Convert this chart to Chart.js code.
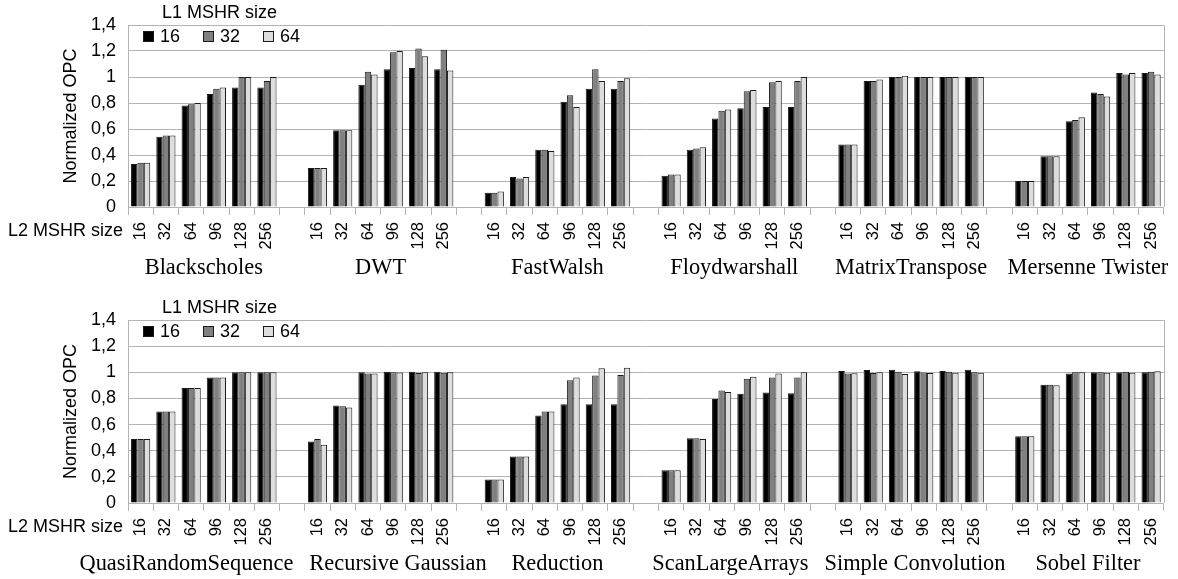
<!DOCTYPE html>
<html>
<head>
<meta charset="utf-8">
<script src="https://cdn.jsdelivr.net/npm/chart.js@4"></script>
<style>
  body { margin: 0; background: #fff; }
  canvas { display: block; }
</style>
</head>
<body>
<canvas id="topChart" width="1178" height="290"></canvas>
<canvas id="bottomChart" width="1178" height="289"></canvas>
<script>
const l1Sizes = ['16', '32', '64'];
const l2Sizes = ['16', '32', '64', '96', '128', '256'];
const yTickLabels = ['0', '0,2', '0,4', '0,6', '0,8', '1', '1,2', '1,4'];

const topBenchmarks = ['Blackscholes', 'DWT', 'FastWalsh', 'Floydwarshall', 'MatrixTranspose', 'Mersenne Twister'];
const bottomBenchmarks = ['QuasiRandomSequence', 'Recursive Gaussian', 'Reduction', 'ScanLargeArrays', 'Simple Convolution', 'Sobel Filter'];

// rows: L1 MSHR 16 / 32 / 64, columns: L2 MSHR sizes
const blackscholes = [
  [0.33, 0.54, 0.78, 0.87, 0.92, 0.92],
  [0.34, 0.55, 0.79, 0.91, 1.00, 0.97],
  [0.34, 0.55, 0.80, 0.92, 1.00, 1.00]
];
const dwt = [
  [0.30, 0.59, 0.94, 1.06, 1.07, 1.06],
  [0.30, 0.59, 1.04, 1.19, 1.22, 1.21],
  [0.30, 0.59, 1.02, 1.20, 1.16, 1.05]
];
const fastWalsh = [
  [0.11, 0.23, 0.44, 0.81, 0.91, 0.91],
  [0.11, 0.22, 0.44, 0.86, 1.06, 0.97],
  [0.12, 0.23, 0.43, 0.77, 0.97, 0.99]
];
const floydwarshall = [
  [0.24, 0.44, 0.68, 0.76, 0.77, 0.77],
  [0.25, 0.45, 0.74, 0.89, 0.96, 0.97],
  [0.25, 0.46, 0.75, 0.90, 0.97, 1.00]
];
const matrixTranspose = [
  [0.48, 0.97, 1.00, 1.00, 1.00, 1.00],
  [0.48, 0.97, 1.00, 1.00, 1.00, 1.00],
  [0.48, 0.98, 1.01, 1.00, 1.00, 1.00]
];
const mersenneTwister = [
  [0.20, 0.39, 0.66, 0.88, 1.03, 1.03],
  [0.20, 0.39, 0.67, 0.87, 1.02, 1.04],
  [0.20, 0.39, 0.69, 0.85, 1.03, 1.02]
];
const quasiRandomSequence = [
  [0.49, 0.70, 0.88, 0.96, 1.00, 1.00],
  [0.49, 0.70, 0.88, 0.96, 1.00, 1.00],
  [0.49, 0.70, 0.88, 0.96, 1.00, 1.00]
];
const recursiveGaussian = [
  [0.47, 0.745, 1.00, 1.005, 1.005, 1.005],
  [0.49, 0.74, 0.99, 1.00, 0.995, 0.997],
  [0.445, 0.73, 0.99, 0.998, 1.00, 1.00]
];
const reduction = [
  [0.18, 0.355, 0.67, 0.755, 0.755, 0.755],
  [0.18, 0.355, 0.70, 0.94, 0.975, 0.98],
  [0.18, 0.355, 0.70, 0.96, 1.03, 1.035]
];
const scanLargeArrays = [
  [0.25, 0.495, 0.795, 0.835, 0.845, 0.84],
  [0.25, 0.495, 0.86, 0.95, 0.96, 0.96],
  [0.25, 0.49, 0.85, 0.965, 0.99, 1.00]
];
const simpleConvolution = [
  [1.01, 1.017, 1.02, 1.008, 1.01, 1.02],
  [0.99, 0.995, 1.005, 0.998, 1.005, 1.00],
  [0.993, 1.00, 0.986, 0.994, 0.996, 0.996]
];
const sobelFilter = [
  [0.51, 0.905, 0.99, 1.00, 1.00, 1.00],
  [0.51, 0.905, 1.00, 1.00, 1.004, 1.004],
  [0.51, 0.90, 1.00, 0.996, 0.996, 1.007]
];

const topValues = [blackscholes, dwt, fastWalsh, floydwarshall, matrixTranspose, mersenneTwister];
const bottomValues = [quasiRandomSequence, recursiveGaussian, reduction, scanLargeArrays, simpleConvolution, sobelFilter];

const barColors = ['#000000', '#808080', '#dddddd'];
const SANS = "'Liberation Sans', Arial, sans-serif";
const SERIF = "'Liberation Serif', 'Times New Roman', serif";
const GRID = '#b3b3b3';

// extra drawing: frame, legend, axis caption and benchmark names
const decor = {
  id: 'decor',
  afterDraw(chart, args, opts) {
    const ctx = chart.ctx;
    const a = chart.chartArea;
    const x = chart.scales.x;
    ctx.save();
    ctx.strokeStyle = GRID;
    ctx.lineWidth = 1;
    ctx.beginPath();
    ctx.moveTo(Math.round(a.right) + 0.5, a.top);
    ctx.lineTo(Math.round(a.right) + 0.5, a.bottom);
    ctx.stroke();

    ctx.fillStyle = '#000';
    ctx.font = '18px ' + SANS;
    ctx.textBaseline = 'middle';
    ctx.textAlign = 'left';
    ctx.fillText('L1 MSHR size', 162, a.top - 11.5);
    l1Sizes.forEach((s, k) => {
      const bx = 143 + k * 60;
      const by = a.top + 6;
      ctx.fillStyle = barColors[k];
      ctx.fillRect(bx, by, 11, 11);
      ctx.strokeStyle = '#1a1a1a';
      ctx.strokeRect(bx + 0.5, by + 0.5, 10, 10);
      ctx.fillStyle = '#000';
      ctx.fillText(s, bx + 17, a.top + 12);
    });

    ctx.textAlign = 'right';
    ctx.fillText('L2 MSHR size', 123, a.bottom + 24);

    // benchmark names centred under their group, pushed apart where they would collide
    ctx.font = '22.4px ' + SERIF;
    const items = opts.names.map((name, i) => {
      const first = i * (l2Sizes.length + 1);
      const cx = (x.getPixelForValue(first) + x.getPixelForValue(first + l2Sizes.length - 1)) / 2;
      return { name, cx, w: ctx.measureText(name).width };
    });
    const minGap = 16;
    for (let i = 0; i < items.length - 1; i++) {
      const l = items[i], r = items[i + 1];
      const over = (l.cx + l.w / 2 + minGap) - (r.cx - r.w / 2);
      if (over > 0) {
        l.cx -= over / 2;
        r.cx += over / 2;
      }
    }
    ctx.textAlign = 'center';
    ctx.textBaseline = 'alphabetic';
    items.forEach(it => ctx.fillText(it.name, it.cx, a.bottom + 67));
    ctx.restore();
  }
};

function buildChart(id, benchmarks, values, areaTop, areaBottom) {
  const canvas = document.getElementById(id);
  const last = benchmarks.length - 1;
  const labels = [];
  benchmarks.forEach((b, i) => {
    labels.push(...l2Sizes);
    if (i < last) labels.push('');
  });
  const datasets = l1Sizes.map((s, j) => ({
    label: s,
    data: values.flatMap((v, i) => (i < last ? [...v[j], null] : v[j])),
    backgroundColor: barColors[j],
    borderColor: '#1a1a1a',
    borderWidth: 1,
    categoryPercentage: 0.76,
    barPercentage: 1
  }));

  return new Chart(canvas, {
    type: 'bar',
    data: { labels, datasets },
    options: {
      responsive: false,
      animation: false,
      layout: { padding: { top: areaTop, right: 9, left: 0, bottom: 0 } },
      scales: {
        x: {
          grid: { drawOnChartArea: false, drawTicks: true, tickLength: 8, color: GRID, offset: true },
          border: { display: true, color: GRID },
          ticks: {
            autoSkip: false, minRotation: 90, maxRotation: 90, padding: 7,
            color: '#000', font: { family: SANS, size: 16.5 }
          },
          afterFit: s => { s.height = canvas.height - areaBottom; }
        },
        y: {
          min: 0, max: 1.4,
          ticks: {
            stepSize: 0.2, padding: 12, color: '#000',
            font: { family: SANS, size: 18 },
            callback: (v, i) => yTickLabels[i]
          },
          grid: { color: GRID, drawTicks: false },
          border: { display: true, color: GRID },
          title: {
            display: true, text: 'Normalized OPC', color: '#000',
            font: { family: SANS, size: 18 }, padding: { top: 60, bottom: 0 }
          },
          afterFit: s => { s.width = 128; }
        }
      },
      plugins: {
        legend: { display: false },
        tooltip: { enabled: false },
        decor: { names: benchmarks }
      }
    },
    plugins: [decor]
  });
}

buildChart('topChart', topBenchmarks, topValues, 25, 207);
buildChart('bottomChart', bottomBenchmarks, bottomValues, 30, 213);
</script>
</body>
</html>
